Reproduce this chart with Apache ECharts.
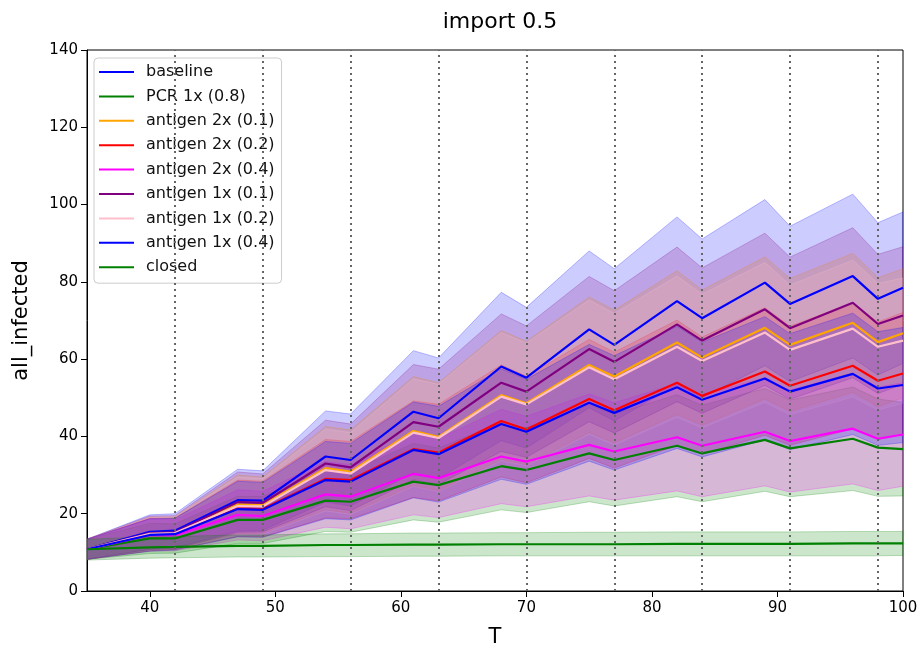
<!DOCTYPE html>
<html><head><meta charset="utf-8">
<script src="https://cdn.jsdelivr.net/npm/echarts@6/dist/echarts.min.js"></script>
<style>html,body{margin:0;padding:0;background:#fff}#c{width:918px;height:645px}</style>
</head><body><div id="c"></div>
<script>
const T = [35,40,42,47,49,54,56,61,63,68,70,75,77,82,84,89,91,96,98,100];
const xTicks = [40,50,60,70,80,90,100];
const weekLines = [42,49,56,63,70,77,84,91,98];

const baseline   = [10.8,15.3,15.6,23.5,23.4,34.8,33.9,46.4,44.7,58.1,55.2,67.7,63.7,75.0,70.6,79.8,74.3,81.5,75.6,78.5];
const baselineLo = [8.2,10.9,11.2,15.5,15.7,23.0,22.0,30.6,29.1,38.9,37.0,47.4,44.0,53.3,50.1,58.3,54.2,60.3,55.9,58.9];
const baselineHi = [13.4,19.7,20.0,31.5,31.1,46.6,45.8,62.2,60.3,77.3,73.4,88.0,83.4,96.8,91.1,101.3,94.4,102.7,95.3,98.1];

const pcr   = [10.8,13.6,13.6,18.4,18.4,23.4,23.1,28.3,27.4,32.3,31.3,35.6,33.9,37.6,35.6,39.1,36.9,39.4,37.1,36.7];
const pcrLo = [8.2,9.7,9.8,12.3,12.3,15.4,15.2,18.4,17.8,21.0,20.3,23.1,22.0,24.4,23.1,25.8,24.4,26.0,24.5,24.6];
const pcrHi = [13.4,17.5,17.4,24.5,24.5,31.4,31.0,38.2,37.0,43.6,42.3,48.1,45.8,50.8,48.1,52.4,49.4,52.8,49.7,48.8];

const ag2x01   = [10.8,14.8,15.0,22.4,22.2,31.8,30.9,41.4,39.9,50.7,48.6,58.5,55.5,64.3,60.4,68.1,63.7,69.4,64.4,66.7];
const ag2x01Lo = [8.2,10.5,10.8,14.8,14.9,21.0,20.1,27.3,25.9,34.0,32.6,41.0,38.3,45.7,42.9,49.7,46.5,51.4,47.7,50.0];
const ag2x01Hi = [13.4,19.1,19.2,30.0,29.5,42.6,41.7,55.5,53.9,67.4,64.6,76.1,72.7,82.9,77.9,86.5,80.9,87.4,81.1,83.4];

const ag2x02   = [10.8,14.6,14.8,21.4,21.2,29.0,28.7,36.7,35.8,44.0,41.8,49.7,46.8,53.9,50.5,56.8,53.1,58.3,54.4,56.3];
const ag2x02Lo = [8.2,10.4,10.7,14.1,14.0,18.9,18.7,24.2,23.3,29.5,28.0,34.3,31.8,37.7,35.4,40.3,37.7,42.0,39.2,40.5];
const ag2x02Hi = [13.4,18.8,18.9,28.7,28.4,39.2,38.7,49.2,48.3,58.5,55.6,65.1,61.8,70.1,65.7,73.3,68.5,74.6,69.6,72.1];

const ag2x04   = [10.8,14.5,14.4,19.7,19.4,25.0,24.4,30.3,29.2,34.8,33.5,37.8,36.1,39.8,37.6,41.2,38.8,42.0,39.4,40.5];
const ag2x04Lo = [8.2,10.3,10.4,13.2,13.0,16.5,16.1,19.7,19.0,22.6,21.8,24.6,23.5,25.9,24.4,27.2,25.6,27.7,26.0,27.1];
const ag2x04Hi = [13.4,18.7,18.4,26.2,25.8,33.5,32.7,40.9,39.4,47.0,45.2,51.0,48.7,53.7,50.8,55.2,52.0,56.3,52.8,53.9];

const ag1x01   = [10.8,15.0,15.2,23.0,22.8,33.0,32.0,43.7,42.5,53.9,51.6,62.6,59.3,69.0,64.8,72.9,68.0,74.6,69.1,71.3];
const ag1x01Lo = [8.2,10.7,10.9,15.2,15.3,21.8,20.8,28.8,27.6,36.1,34.6,43.8,40.9,49.0,46.0,53.2,49.6,55.2,51.1,53.5];
const ag1x01Hi = [13.4,19.4,19.5,30.8,30.3,44.2,43.2,58.6,57.4,71.7,68.6,81.4,77.7,89.0,83.6,92.6,86.4,94.0,87.1,89.1];

const ag1x02   = [10.8,14.8,15.0,22.0,21.9,31.3,30.4,41.0,39.6,50.3,48.3,57.9,54.8,63.2,59.5,66.9,62.4,67.9,63.2,64.8];
const ag1x02Lo = [8.2,10.5,10.8,14.5,14.7,20.7,19.8,27.1,25.7,33.7,32.4,40.5,37.8,44.9,42.2,48.8,45.6,50.2,46.8,48.6];
const ag1x02Hi = [13.4,19.1,19.2,29.5,29.1,41.9,41.0,54.9,53.5,66.9,64.2,75.3,71.8,81.5,76.8,85.0,79.2,85.6,79.6,81.0];

const ag1x04   = [10.8,14.5,14.7,21.2,21.0,28.7,28.3,36.5,35.4,43.2,41.2,48.7,46.1,52.7,49.5,55.0,51.6,56.2,52.4,53.3];
const ag1x04Lo = [8.2,10.3,10.6,14.0,13.9,18.7,18.4,24.1,23.0,28.9,27.6,33.6,31.3,36.9,34.7,39.1,36.6,40.5,37.7,38.4];
const ag1x04Hi = [13.4,18.7,18.8,28.4,28.1,38.7,38.2,48.9,47.8,57.5,54.8,63.8,60.9,68.5,64.4,71.0,66.6,71.9,67.1,68.2];

const closed   = [10.8,11.3,11.4,11.7,11.7,11.9,11.9,12.0,12.0,12.1,12.1,12.1,12.1,12.2,12.2,12.2,12.2,12.3,12.3,12.3];
const closedLo = [8.0,8.5,8.6,8.8,8.8,8.9,8.9,9.0,9.0,9.1,9.1,9.1,9.1,9.1,9.1,9.1,9.1,9.1,9.1,9.2];
const closedHi = [13.4,14.0,14.1,14.5,14.5,14.8,14.8,15.0,15.0,15.1,15.1,15.2,15.2,15.3,15.3,15.3,15.3,15.4,15.4,15.4];

const defs = [
  {name:'baseline',          rgb:[0,0,255],    mean:baseline, lo:baselineLo, hi:baselineHi},
  {name:'PCR 1x (0.8)',      rgb:[0,128,0],    mean:pcr,      lo:pcrLo,      hi:pcrHi},
  {name:'antigen 2x (0.1)',  rgb:[255,165,0],  mean:ag2x01,   lo:ag2x01Lo,   hi:ag2x01Hi},
  {name:'antigen 2x (0.2)',  rgb:[255,0,0],    mean:ag2x02,   lo:ag2x02Lo,   hi:ag2x02Hi},
  {name:'antigen 2x (0.4)',  rgb:[255,0,255],  mean:ag2x04,   lo:ag2x04Lo,   hi:ag2x04Hi},
  {name:'antigen 1x (0.1)',  rgb:[128,0,128],  mean:ag1x01,   lo:ag1x01Lo,   hi:ag1x01Hi},
  {name:'antigen 1x (0.2)',  rgb:[255,192,203],mean:ag1x02,   lo:ag1x02Lo,   hi:ag1x02Hi},
  {name:'antigen 1x (0.4)',  rgb:[0,0,255],    mean:ag1x04,   lo:ag1x04Lo,   hi:ag1x04Hi},
  {name:'closed',            rgb:[0,128,0],    mean:closed,   lo:closedLo,   hi:closedHi}
];
const rgba = (c,a) => `rgba(${c[0]},${c[1]},${c[2]},${a})`;

function bandRender(d){
  return function(params, api){
    if (params.dataIndex !== 0) return null;
    const top = T.map((t,j)=>api.coord([t, d.hi[j]]));
    const bot = T.map((t,j)=>api.coord([t, d.lo[j]])).reverse();
    return {type:'polygon', shape:{points: top.concat(bot)},
      style:{fill: rgba(d.rgb,0.2), stroke: rgba(d.rgb,0.25), lineWidth:1}};
  };
}

const series = [];
defs.forEach((d,i) => {
  series.push({
    type:'custom', name:'_band'+i, silent:true, z:1, clip:true,
    renderItem: bandRender(d),
    data: T.map((t,j)=>[t, d.lo[j], d.hi[j]]),
    encode:{x:0, y:[1,2]}, animation:false
  });
});
defs.forEach((d,i) => {
  series.push({
    type:'line', name:d.name, symbol:'none', z:3,
    data: T.map((t,j)=>[t, d.mean[j]]),
    lineStyle:{color:rgba(d.rgb,1), width:2.2}, itemStyle:{color:rgba(d.rgb,1)}, animation:false
  });
});
series.push({
  type:'line', name:'_weeks', data:[], z:4, silent:true,
  markLine:{symbol:'none', silent:true, label:{show:false}, animation:false,
    lineStyle:{type:[2,4], color:'#666', width:2},
    data: weekLines.map(v=>({xAxis:v}))}
});

const chart = echarts.init(document.getElementById('c'), null, {renderer:'canvas'});
chart.setOption({
  animation:false,
  backgroundColor:'#fff',
  textStyle:{fontFamily:'DejaVu Sans'},
  title:{text:'import 0.5', left:495, textAlign:'center', top:6,
    textStyle:{fontSize:22, fontWeight:'normal', color:'#000', fontFamily:'DejaVu Sans'}},
  grid:{left:87, right:15, top:50, bottom:54, outerBoundsMode:'none', containLabel:false,
    show:true, borderColor:'#000', borderWidth:1},
  legend:{
    data: defs.map(d=>d.name), orient:'vertical', left:94, top:58,
    icon:'rect', itemWidth:35, itemHeight:2, itemGap:8.4,
    padding:[6,7,8,5],
    backgroundColor:'rgba(255,255,255,0.8)', borderColor:'#cccccc', borderWidth:1, borderRadius:4,
    textStyle:{fontSize:16, lineHeight:16, color:'#111', fontFamily:'DejaVu Sans', padding:[0,0,0,7]}
  },
  xAxis:{type:'value', min:35, max:100,
    axisLine:{show:true, onZero:false, lineStyle:{color:'#000'}},
    axisTick:{show:true, length:6, customValues:xTicks, lineStyle:{color:'#000'}},
    axisLabel:{customValues:xTicks, color:'#000', fontSize:15, margin:10},
    splitLine:{show:false},
    name:'T', nameLocation:'middle', nameGap:36, nameTextStyle:{fontSize:21, color:'#000'}},
  yAxis:{type:'value', min:0, max:140, interval:20,
    axisLine:{show:true, onZero:false, lineStyle:{color:'#000'}},
    axisTick:{show:true, length:6, lineStyle:{color:'#000'}},
    axisLabel:{color:'#000', fontSize:15, margin:9},
    splitLine:{show:false},
    name:'all_infected', nameLocation:'middle', nameGap:55, nameRotate:90,
    nameTextStyle:{fontSize:21, color:'#000'}},
  series: series
});
</script>
</body></html>
